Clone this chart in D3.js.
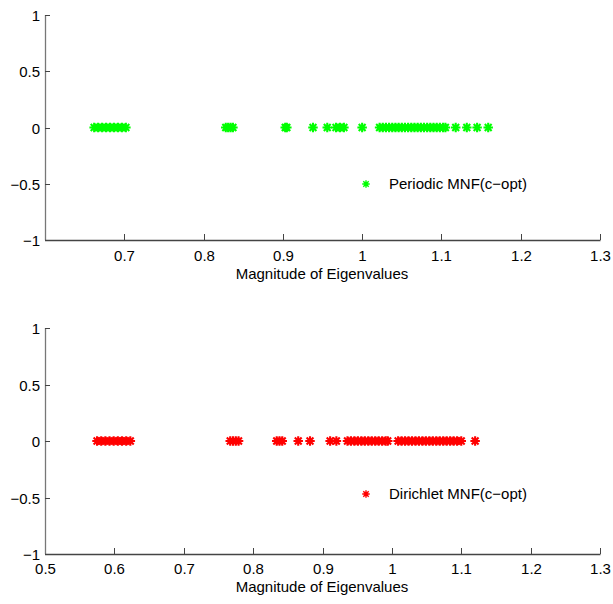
<!DOCTYPE html>
<html><head><meta charset="utf-8">
<script src="https://cdn.jsdelivr.net/npm/d3@7"></script>
<style>
body{margin:0;background:#fff;}
text{font-family:"Liberation Sans",Arial,Helvetica,sans-serif;fill:#000;}
</style></head>
<body><svg id="c" width="613" height="604"></svg>
<script>
const periodic = [0.662,0.667,0.672,0.677,0.682,0.687,0.692,0.697,0.702,
  0.828,0.831,0.834,0.837,
  0.903,0.905,
  0.938,
  0.956,0.967,0.972,0.977,
  1.000,
  1.022,1.026,1.030,1.034,1.038,1.042,1.046,1.050,1.054,1.058,1.062,1.066,1.070,1.074,1.078,1.082,1.086,1.090,1.094,1.098,1.102,1.105,
  1.118,1.132,
  1.145,1.159];
const dirichlet = [0.575,0.581,0.587,0.593,0.599,0.605,0.611,0.617,0.623,
  0.767,0.771,0.775,0.779,
  0.834,0.838,0.842,
  0.865,
  0.882,
  0.911,0.920,
  0.936,0.941,0.946,0.951,0.956,0.961,0.966,0.971,0.976,0.981,0.986,0.991,0.994,
  1.009,1.014,1.019,1.024,1.029,1.034,1.039,1.044,1.049,1.054,1.059,1.064,1.069,1.074,1.079,1.084,1.089,1.094,1.100,
  1.120];
const xTicksTop = [0.7,0.8,0.9,1.0,1.1,1.2,1.3];
const xTicksBottom = [0.5,0.6,0.7,0.8,0.9,1.0,1.1,1.2,1.3];
const yTicks = [-1,-0.5,0,0.5,1];
const xLabel = "Magnitude of Eigenvalues";
const legendTop = "Periodic MNF(c\u2212opt)";
const legendBottom = "Dirichlet MNF(c\u2212opt)";

const svg = d3.select("#c");
const star = {draw(ctx, size){
  const r = Math.sqrt(size)/2, d = r*0.72;
  ctx.moveTo(-r,0); ctx.lineTo(r,0);
  ctx.moveTo(0,-r); ctx.lineTo(0,r);
  ctx.moveTo(-d,-d); ctx.lineTo(d,d);
  ctx.moveTo(-d,d); ctx.lineTo(d,-d);
}};
const sym = d3.symbol().type(star).size(90);
const fmt = v => { if (v===0) return "0"; let s = (Math.round(v*10)/10).toString(); return s.replace("-", "\u2212"); };
const FS = "15px";

function panel(opts){
  const x = d3.scaleLinear().domain(opts.xdom).range([45,600]);
  const y = d3.scaleLinear().domain([-1,1]).range([opts.y1, opts.y0]);
  const g = svg.append("g");
  const axCol = "#444";
  g.append("line").attr("x1",45.5).attr("x2",45.5).attr("y1",y(1)).attr("y2",y(-1)).attr("stroke","#777").attr("stroke-width",1.3);
  g.append("line").attr("x1",45).attr("x2",600.5).attr("y1",Math.round(y(-1))+0.5).attr("y2",Math.round(y(-1))+0.5).attr("stroke",axCol).attr("stroke-width",1.3);
  yTicks.forEach(t=>{
    const yy = Math.round(y(t))+0.5;
    g.append("line").attr("x1",45).attr("x2",50).attr("y1",yy).attr("y2",yy).attr("stroke",axCol);
    g.append("text").attr("x",40).attr("y",yy).attr("dy","0.36em").attr("text-anchor","end").attr("font-size",FS).text(fmt(t));
  });
  opts.xticks.forEach(t=>{
    const xx = Math.round(x(t))+0.5;
    if (t !== opts.xdom[0]) g.append("line").attr("x1",xx).attr("x2",xx).attr("y1",y(-1)).attr("y2",y(-1)-6).attr("stroke",axCol);
    g.append("text").attr("x",xx).attr("y",opts.tickBase).attr("text-anchor","middle").attr("font-size",FS).text(fmt(t));
  });
  g.append("text").attr("x",322).attr("y",opts.titleBase).attr("text-anchor","middle").attr("font-size",FS).text(xLabel);
  g.selectAll("path.pt").data(opts.data).enter().append("path")
    .attr("class","pt")
    .attr("transform", d => `translate(${x(d)},${y(0)})`)
    .attr("d", sym).attr("fill","none").attr("stroke",opts.color).attr("stroke-width",2.1);
  g.append("path").attr("transform",`translate(${opts.legX},${opts.legY})`).attr("d", d3.symbol().type(star).size(56)())
    .attr("fill","none").attr("stroke",opts.color).attr("stroke-width",1.4);
  g.append("text").attr("x",opts.legX+23).attr("y",opts.legY).attr("dy","0.36em").attr("font-size",FS).text(opts.legend);
}

panel({xdom:[0.6,1.3], xticks:xTicksTop, y0:15, y1:240, data:periodic, color:"#00ff00",
  tickBase:261, titleBase:279, legX:366, legY:184, legend:legendTop});
panel({xdom:[0.5,1.3], xticks:xTicksBottom, y0:328, y1:554, data:dirichlet, color:"#ff0000",
  tickBase:574, titleBase:592, legX:366, legY:494, legend:legendBottom});
</script></body></html>
